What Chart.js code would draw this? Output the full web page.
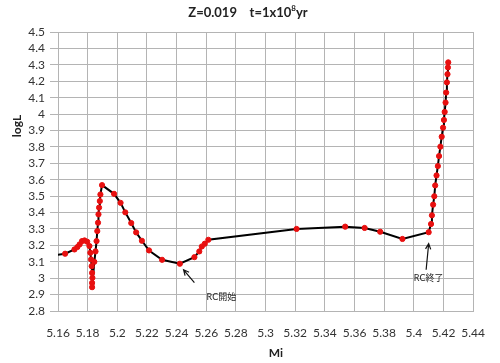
<!DOCTYPE html>
<html>
<head>
<meta charset="utf-8">
<script src="https://cdn.jsdelivr.net/npm/chart.js@4/dist/chart.umd.min.js"></script>
<style>
  html, body { margin: 0; padding: 0; background: #fff; }
  #wrap { width: 500px; height: 363px; position: relative; }
</style>
</head>
<body>
<div id="wrap"><canvas id="chart" width="500" height="363"></canvas></div>
<script>
// track data
const massVals = [5.155, 5.1648, 5.1711, 5.1731, 5.1746, 5.1762, 5.1779, 5.1797, 5.1812, 5.1818,
  5.1823, 5.1827, 5.1830, 5.1832, 5.1830, 5.1830, 5.1845, 5.1853, 5.1860, 5.1865,
  5.1870, 5.1873, 5.1877, 5.1882, 5.1886, 5.1897, 5.1978, 5.2022, 5.2054, 5.2094,
  5.2127, 5.2166, 5.2214, 5.2302, 5.2422, 5.2520, 5.2553, 5.2570, 5.2590, 5.2614,
  5.3209, 5.3537, 5.3668, 5.3773, 5.3923, 5.4100, 5.4116, 5.4122, 5.4130, 5.4138,
  5.4144, 5.4153, 5.4162, 5.4170, 5.4179, 5.4188, 5.4197, 5.4203, 5.4208, 5.4214,
  5.4218, 5.4223, 5.4227, 5.4230, 5.4232];
const logLVals = [3.135, 3.149, 3.175, 3.190, 3.206, 3.226, 3.230, 3.222, 3.196, 3.155,
  3.114, 3.073, 3.032, 3.002, 2.971, 2.945, 3.100, 3.163, 3.226, 3.287,
  3.338, 3.389, 3.430, 3.470, 3.510, 3.567, 3.514, 3.459, 3.401, 3.336,
  3.279, 3.228, 3.169, 3.112, 3.088, 3.128, 3.163, 3.193, 3.210, 3.234,
  3.300, 3.314, 3.306, 3.283, 3.239, 3.280, 3.330, 3.383, 3.448, 3.499,
  3.565, 3.626, 3.683, 3.744, 3.801, 3.862, 3.917, 3.964, 4.013, 4.070,
  4.131, 4.193, 4.243, 4.284, 4.315];

const xTickVals = [5.16, 5.18, 5.2, 5.22, 5.24, 5.26, 5.28, 5.3, 5.32, 5.34, 5.36, 5.38, 5.4, 5.42, 5.44];
const yTickVals = [2.8, 2.9, 3, 3.1, 3.2, 3.3, 3.4, 3.5, 3.6, 3.7, 3.8, 3.9, 4, 4.1, 4.2, 4.3, 4.4, 4.5];

// annotations: label, arrow tip, arrow tail, text centre (data units)
const noteLabels = ['RC開始', 'RC終了'];
const noteTips = [[5.2447, 3.051], [5.4100, 3.210]];
const noteTails = [[5.2520, 2.973], [5.4083, 3.051]];
const noteText = [[5.2702, 2.886], [5.4100, 3.002]];

const FONT = "Lato, 'Noto Sans CJK JP', sans-serif";
const points = massVals.map((m, i) => ({ x: m, y: logLVals[i] }));

const extras = {
  id: 'extras',
  afterDraw(chart) {
    const c = chart.ctx;
    const xs = chart.scales.x, ys = chart.scales.y;
    c.save();
    // title with superscript
    c.fillStyle = '#222';
    c.textBaseline = 'middle';
    const part1 = 'Z=0.019    t=1x10', sup = '8', part2 = 'yr';
    c.font = "bold 13px " + FONT;
    const w1 = c.measureText(part1).width, w3 = c.measureText(part2).width;
    c.font = "bold 8px " + FONT;
    const w2 = c.measureText(sup).width;
    let x0 = 248 - (w1 + w2 + w3) / 2;
    c.font = "bold 13px " + FONT;
    c.textAlign = 'left';
    c.fillText(part1, x0, 13);
    c.font = "bold 8px " + FONT;
    c.fillText(sup, x0 + w1, 8);
    c.font = "bold 13px " + FONT;
    c.fillText(part2, x0 + w1 + w2, 13);

    // axis titles
    c.font = "bold 12px " + FONT;
    c.textAlign = 'center';
    c.fillText('Mi', 276, 353);
    c.save();
    c.translate(17, 126);
    c.rotate(-Math.PI / 2);
    c.fillText('logL', 0, 0);
    c.restore();

    // arrows + notes
    c.strokeStyle = '#111';
    c.lineWidth = 1.2;
    noteLabels.forEach((lab, i) => {
      const tx = xs.getPixelForValue(noteTips[i][0]), ty = ys.getPixelForValue(noteTips[i][1]);
      const bx = xs.getPixelForValue(noteTails[i][0]), by = ys.getPixelForValue(noteTails[i][1]);
      const ang = Math.atan2(ty - by, tx - bx);
      c.beginPath();
      c.moveTo(bx, by); c.lineTo(tx, ty);
      c.moveTo(tx - 6 * Math.cos(ang - 0.45), ty - 6 * Math.sin(ang - 0.45));
      c.lineTo(tx, ty);
      c.lineTo(tx - 6 * Math.cos(ang + 0.45), ty - 6 * Math.sin(ang + 0.45));
      c.stroke();
      c.font = "9px " + FONT;
      c.fillStyle = '#222';
      c.fillText(lab, xs.getPixelForValue(noteText[i][0]), ys.getPixelForValue(noteText[i][1]));
    });
    c.restore();
  }
};

new Chart(document.getElementById('chart'), {
  type: 'scatter',
  data: {
    datasets: [{
      data: points,
      showLine: true,
      borderColor: '#000',
      borderWidth: 2,
      pointRadius: 2.6,
      pointStyle: 'circle',
      pointBackgroundColor: '#e81010',
      pointBorderColor: '#e81010',
      pointBorderWidth: 1,
      tension: 0
    }]
  },
  options: {
    responsive: false,
    animation: false,
    layout: { padding: { top: 32, right: 15, left: 0, bottom: 0 } },
    plugins: { legend: { display: false }, tooltip: { enabled: false } },
    scales: {
      x: {
        type: 'linear', min: 5.16, max: 5.44,
        afterBuildTicks: s => { s.ticks = xTickVals.map(v => ({ value: v })); },
        afterFit: s => { s.height = 52; },
        grid: { color: '#b4b4b4', drawTicks: false },
        border: { color: '#b4b4b4' },
        ticks: {
          padding: 15, color: '#333', font: { family: FONT, size: 12 },
          maxRotation: 0, autoSkip: false,
          callback: v => String(Number(v.toFixed(2)))
        }
      },
      y: {
        type: 'linear', min: 2.8, max: 4.5,
        afterBuildTicks: s => { s.ticks = yTickVals.map(v => ({ value: v })); },
        afterFit: s => { s.width = 58; },
        grid: { color: '#b4b4b4', tickLength: 8 },
        border: { color: '#b4b4b4' },
        ticks: {
          padding: 5, color: '#333', font: { family: FONT, size: 12 },
          autoSkip: false,
          callback: v => String(Number(v.toFixed(1)))
        }
      }
    }
  },
  plugins: [extras]
});
</script>
</body>
</html>
